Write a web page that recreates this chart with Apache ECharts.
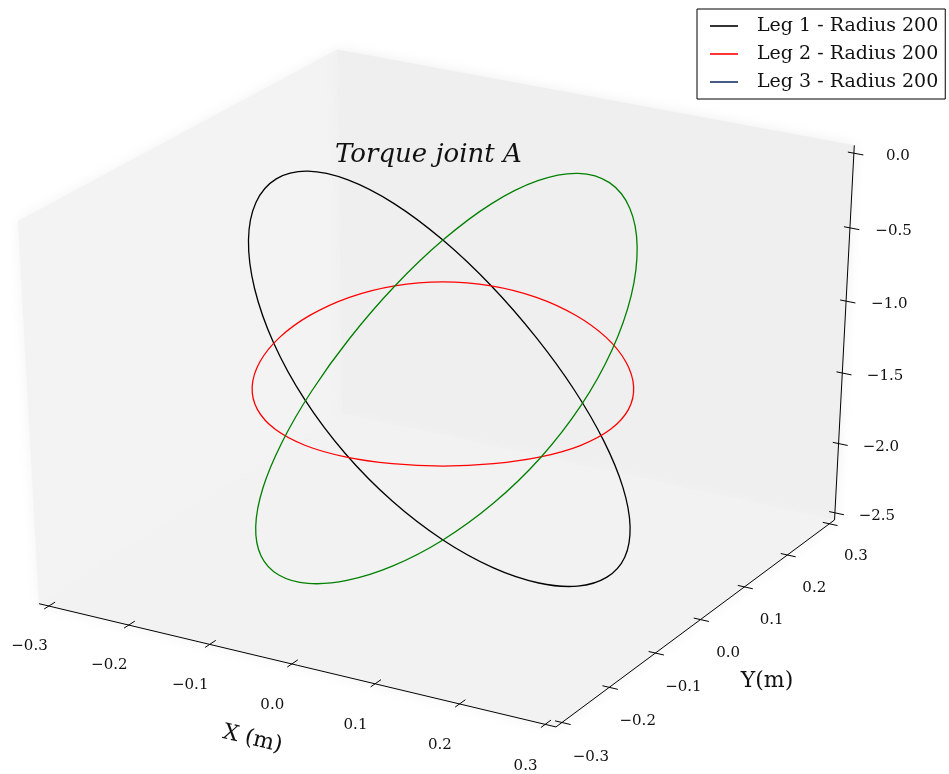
<!DOCTYPE html>
<html>
<head>
<meta charset="utf-8">
<script src="https://cdn.jsdelivr.net/npm/echarts@6/dist/echarts.min.js"></script>
<style>
  html, body { margin: 0; padding: 0; background: #ffffff; }
  #chart { width: 949px; height: 774px; }
</style>
</head>
<body>
<div id="chart"></div>
<script>
// End-effector path in the XY plane (m): circle of radius 200 mm, every 15 degrees
const pathX = [0.2, 0.1932, 0.1732, 0.1414, 0.1, 0.0518, 0, -0.0518, -0.1, -0.1414, -0.1732, -0.1932,
               -0.2, -0.1932, -0.1732, -0.1414, -0.1, -0.0518, 0, 0.0518, 0.1, 0.1414, 0.1732, 0.1932];
const pathY = [0, 0.0518, 0.1, 0.1414, 0.1732, 0.1932, 0.2, 0.1932, 0.1732, 0.1414, 0.1, 0.0518,
               0, -0.0518, -0.1, -0.1414, -0.1732, -0.1932, -0.2, -0.1932, -0.1732, -0.1414, -0.1, -0.0518];

// Torque of joint A for each leg along the path
const torqueLeg1 = [-2.401, -2.387, -2.304, -2.156, -1.947, -1.685, -1.388, -1.075, -0.774, -0.509, -0.305, -0.178,
                    -0.140, -0.192, -0.327, -0.530, -0.783, -1.063, -1.351, -1.627, -1.876, -2.086, -2.247, -2.354];
const torqueLeg2 = [-1.370, -1.352, -1.320, -1.273, -1.217, -1.160, -1.109, -1.075, -1.063, -1.075, -1.109, -1.160,
                    -1.217, -1.273, -1.320, -1.352, -1.370, -1.376, -1.374, -1.370, -1.369, -1.370, -1.374, -1.376];
const torqueLeg3 = [-0.830, -0.579, -0.371, -0.228, -0.165, -0.192, -0.310, -0.509, -0.774, -1.078, -1.394, -1.694,
                    -1.956, -2.162, -2.304, -2.378, -2.386, -2.335, -2.229, -2.074, -1.876, -1.641, -1.380, -1.104];

const seriesNames = ['Leg 1 - Radius 200', 'Leg 2 - Radius 200', 'Leg 3 - Radius 200'];
const chartTitle = 'Torque joint A';
const xAxisName = 'X (m)';
const yAxisName = 'Y(m)';

// Axis limits and tick values
const xLim = [-0.3, 0.3];
const yLim = [-0.3, 0.3];
const zLim = [-2.5, 0.0];
const xTicks = [-0.3, -0.2, -0.1, 0.0, 0.1, 0.2, 0.3];
const yTicks = [-0.3, -0.2, -0.1, 0.0, 0.1, 0.2, 0.3];
const zTicks = [-2.5, -2.0, -1.5, -1.0, -0.5, 0.0];

// ---- 3D view (elevation / azimuth / camera distance) ----
const view = { elev: 30, azim: -60, dist: 10 };

// Box bounds: limits padded by 1/48 of the range on each side
function padded(lim) {
  const d = (lim[1] - lim[0]) / 48;
  return [lim[0] - d, lim[1] + d];
}
const bx = padded(xLim), by = padded(yLim), bz = padded(zLim);

const toRad = Math.PI / 180;
const ce = Math.cos(view.elev * toRad), se = Math.sin(view.elev * toRad);
const ca = Math.cos(view.azim * toRad), sa = Math.sin(view.azim * toRad);
const nVec = [ca * ce, sa * ce, se];
let uVec = [-nVec[1], nVec[0], 0];
const uLen = Math.hypot(uVec[0], uVec[1]);
uVec = [uVec[0] / uLen, uVec[1] / uLen, 0];
const vVec = [
  nVec[1] * uVec[2] - nVec[2] * uVec[1],
  nVec[2] * uVec[0] - nVec[0] * uVec[2],
  nVec[0] * uVec[1] - nVec[1] * uVec[0]
];
const dot = (a, b) => a[0] * b[0] + a[1] * b[1] + a[2] * b[2];

// Perspective projection of a data point into 2D view coordinates
function project(x, y, z) {
  const q = [
    (x - (bx[0] + bx[1]) / 2) / (bx[1] - bx[0]),
    (y - (by[0] + by[1]) / 2) / (by[1] - by[0]),
    (z - (bz[0] + bz[1]) / 2) / (bz[1] - bz[0])
  ];
  const w = view.dist - dot(nVec, q);
  return [dot(uVec, q) / w, dot(vVec, q) / w];
}

// 2D view window onto which the projected scene is laid out
const viewX = [-0.07421, 0.08480];
const viewY = [-0.09096, 0.08620];

const fmt = v => (Math.abs(v) < 1e-9 ? '0.0' : v.toFixed(1).replace('-', '\u2212'));
const serif = '"DejaVu Serif", "Liberation Serif", serif';

// Panes, axis lines, ticks and labels of the 3D box
function renderFrame(params, api) {
  const P = (x, y, z) => api.coord(project(x, y, z));
  const children = [];
  const pane = (pts, fill) => children.push({
    type: 'polygon', shape: { points: pts },
    style: { fill: fill, stroke: null, shadowBlur: 14, shadowColor: fill }, silent: true
  });
  // back-left pane (x = min), back-right pane (y = max), floor (z = min)
  pane([P(bx[0], by[0], bz[0]), P(bx[0], by[1], bz[0]), P(bx[0], by[1], bz[1]), P(bx[0], by[0], bz[1])], '#f3f3f3');
  pane([P(bx[0], by[1], bz[0]), P(bx[1], by[1], bz[0]), P(bx[1], by[1], bz[1]), P(bx[0], by[1], bz[1])], '#efefef');
  pane([P(bx[0], by[0], bz[0]), P(bx[1], by[0], bz[0]), P(bx[1], by[1], bz[0]), P(bx[0], by[1], bz[0])], '#f2f2f2');

  const seg = (a, b) => children.push({
    type: 'line', shape: { x1: a[0], y1: a[1], x2: b[0], y2: b[1] },
    style: { stroke: '#000', lineWidth: 1 }, silent: true
  });
  const label = (pt, text, size, rot) => children.push({
    type: 'text', x: pt[0], y: pt[1], rotation: rot || 0, silent: true,
    style: { text: text, fontFamily: serif, fontSize: size, fill: '#111', align: 'center', verticalAlign: 'middle' }
  });

  // X axis along the front edge
  const xa0 = P(bx[0], by[0], bz[0]), xa1 = P(bx[1], by[0], bz[0]);
  seg(xa0, xa1);
  xTicks.forEach(t => {
    seg(P(t, by[0] - 0.009, bz[0]), P(t, by[0] + 0.012, bz[0]));
    label(P(t, by[0] - 0.040, bz[0] - 0.193), fmt(t), 15);
  });
  const xRot = -Math.atan2(xa1[1] - xa0[1], xa1[0] - xa0[0]);
  label(P((xLim[0] + xLim[1]) / 2, by[0] - 0.080, bz[0] - 0.337), xAxisName, 22, xRot);

  // Y axis along the right edge
  seg(P(bx[1], by[0], bz[0]), P(bx[1], by[1], bz[0]));
  yTicks.forEach(t => {
    seg(P(bx[1] - 0.008, t, bz[0]), P(bx[1] + 0.010, t, bz[0]));
    label(P(bx[1] + 0.034, t, bz[0] - 0.193), fmt(t), 15);
  });
  label(P(bx[1] + 0.081, (yLim[0] + yLim[1]) / 2, bz[0] - 0.327), yAxisName, 22, 0);

  // Z axis on the back-right vertical edge
  seg(P(bx[1], by[1], bz[0]), P(bx[1], by[1], bz[1]));
  zTicks.forEach(t => {
    seg(P(bx[1] - 0.007, by[1], t), P(bx[1] + 0.011, by[1], t));
    label(P(bx[1] + 0.044, by[1] + 0.014, t), fmt(t), 15);
  });

  return { type: 'group', children: children };
}

// One closed curve per leg, drawn through the cartesian scales
function legSeries(name, torque, stroke, legendColor) {
  const pts = pathX.map((x, i) => project(x, pathY[i], torque[i]));
  return {
    type: 'custom',
    name: name,
    coordinateSystem: 'cartesian2d',
    itemStyle: { color: legendColor },
    data: pts,
    encode: { x: 0, y: 1 },
    z: 3,
    silent: true,
    renderItem: function (params, api) {
      if (params.dataIndex !== 0) return null;
      return {
        type: 'polygon',
        shape: { points: pts.map(p => api.coord(p)), smooth: 0.33 },
        style: { fill: 'none', stroke: stroke, lineWidth: 1.3 }
      };
    }
  };
}

const chart = echarts.init(document.getElementById('chart'), null, { renderer: 'canvas' });
chart.setOption({
  animation: false,
  backgroundColor: '#ffffff',
  title: {
    text: chartTitle,
    left: 335, top: 142, padding: 0,
    textStyle: { fontFamily: serif, fontStyle: 'italic', fontWeight: 'normal', fontSize: 26, color: '#111' }
  },
  legend: {
    orient: 'vertical',
    left: 697, top: 9,
    padding: [6, 7, 6, 13],
    itemGap: 6,
    itemWidth: 28,
    itemHeight: 1.6,
    borderColor: '#000', borderWidth: 1, borderRadius: 0,
    backgroundColor: '#ffffff',
    selectedMode: false,
    textStyle: { fontFamily: serif, fontSize: 19, color: '#111', lineHeight: 22, padding: [0, 0, 0, 14] },
    data: seriesNames.map(n => ({ name: n, icon: 'rect' }))
  },
  grid: { left: 0, right: 0, top: 0, bottom: 0, containLabel: false },
  xAxis: { type: 'value', min: viewX[0], max: viewX[1], show: false },
  yAxis: { type: 'value', min: viewY[0], max: viewY[1], show: false },
  series: [
    {
      type: 'custom', coordinateSystem: 'cartesian2d', silent: true, z: 1,
      data: [[0, 0]], renderItem: renderFrame
    },
    legSeries(seriesNames[0], torqueLeg1, '#000000', '#000000'),
    legSeries(seriesNames[1], torqueLeg2, '#ff0000', '#ff0000'),
    legSeries(seriesNames[2], torqueLeg3, '#008000', '#163266')
  ]
});
</script>
</body>
</html>
